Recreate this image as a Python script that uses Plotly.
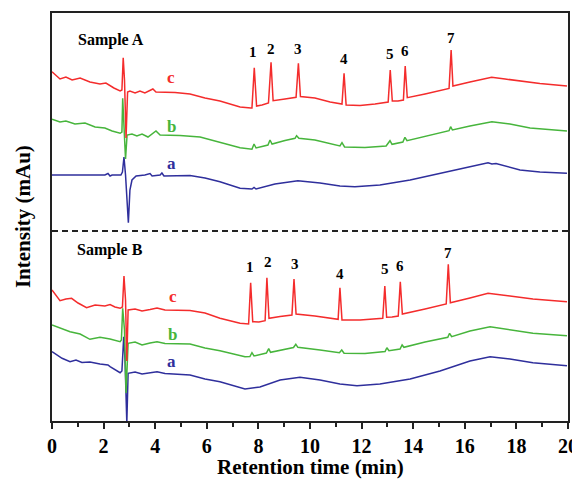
import plotly.graph_objects as go

# ---------------- data (retention time in min, intensity in arbitrary mAu units) ----------------
A_c_t = [0, .31, .54, .78, 1.09, 1.47, 1.86, 2.09, 2.40, 2.64, 2.71, 2.76, 2.81, 2.87, 2.93, 3.02, 3.22, 3.41, 3.60, 3.80, 3.91, 4.03, 4.19,
         4.77, 5.35, 5.93, 6.51, 7.29, 7.71, 7.75, 7.84, 7.93, 8.14, 8.39, 8.49, 8.57, 9.03, 9.46, 9.55, 9.63, 10.19, 10.78, 11.24, 11.32,
         11.40, 11.94, 12.52, 13.03, 13.11, 13.19, 13.41, 13.62, 13.69, 13.77, 14.46, 15.39, 15.47, 15.54, 16.20, 17.04, 17.56, 18.14,
         18.91, 19.96]
A_c_y = [349.3, 342, 344, 341, 343, 339, 337, 338, 333, 330, 331, 363.3, 341, 283, 329, 330, 328, 330, 328, 331, 332, 329, 329,
         328.5, 327, 323, 320, 314, 313, 313, 353.3, 315, 316, 318, 358.7, 320.3, 322, 323.7, 357.7, 324.5, 323, 319, 317, 347.7,
         316, 315.5, 317, 319, 351, 320, 320, 321, 355, 323.3, 327, 332.5, 371, 335, 339, 343.7, 342, 340,
         337.5, 335]

A_b_t = [0, .31, .54, .89, 1.28, 1.67, 2.05, 2.33, 2.64, 2.71, 2.74, 2.79, 2.85, 2.91, 3.10, 3.29, 3.49, 3.72, 3.91, 4.03, 4.19, 4.96,
         5.74, 6.51, 7.29, 7.75, 7.83, 7.91, 8.37, 8.45, 8.53, 9.03, 9.42, 9.48, 9.57, 10.19, 11.16, 11.24, 11.34, 12.13, 12.95, 13.10,
         13.18, 13.60, 13.68, 13.76, 14.65, 15.39, 15.45, 15.52, 16.20, 17.05, 17.75, 18.53, 19.96]
A_b_y = [301.7, 299, 300, 297, 298, 294, 293, 290, 287.7, 289, 322.7, 300, 262, 286, 287, 285, 287, 284, 288, 290, 286, 285.5,
         284, 278.3, 273.3, 271.7, 277, 273, 276, 281, 277, 280.5, 282.7, 285.3, 282.7, 281, 275, 278.3, 274, 273.5, 275, 280.3,
         276.7, 279, 283.7, 280.3, 286, 290.3, 294.3, 291, 295, 299.3, 297, 293, 290]

A_a_t = [0, 1.09, 2.05, 2.17, 2.25, 2.33, 2.67, 2.73, 2.79, 2.85, 2.96, 3.02, 3.10, 3.26, 3.60, 3.80, 3.88, 4.19, 4.26, 4.34, 5.35,
         5.93, 6.51, 7.29, 7.75, 7.83, 7.91, 8.64, 9.53, 10.39, 11.16, 11.74, 12.71, 13.88, 15.04, 16.20, 16.90, 17.05, 17.21, 17.56,
         18.14, 18.91, 19.96]
A_a_y = [246, 246, 246, 247.5, 245, 246, 246, 249, 264, 246, 198.3, 231, 241, 245, 246, 247.5, 245, 246, 248, 245, 245.5,
         243, 239.3, 232.7, 232, 233.5, 232, 237, 240.3, 238, 235, 234.3, 236, 241, 248, 254.3, 258.3, 257, 257.5, 255,
         251, 249, 247.7]

B_c_t = [0, .31, .54, .76, 1.01, 1.34, 1.67, 2.05, 2.25, 2.44, 2.64, 2.73, 2.79, 2.85, 2.90, 2.95, 3.22, 3.49, 3.80, 4.07, 4.38,
         5.35, 5.93, 6.51, 7.29, 7.62, 7.70, 7.78, 8.02, 8.26, 8.33, 8.41, 8.84, 9.30, 9.38, 9.46, 10.19, 11.09, 11.16, 11.24, 11.94,
         12.82, 12.90, 12.97, 13.18, 13.42, 13.50, 13.58, 14.46, 15.28, 15.36, 15.44, 16.20, 16.90, 17.75, 18.64, 19.96]
B_c_y = [131, 120.3, 122, 122.7, 118, 113.3, 116, 115, 116.5, 114, 112.7, 114, 145, 121, 60, 111, 112, 110, 111.5, 113, 111,
         110.5, 108, 102.7, 97.7, 97, 138.3, 99.3, 99, 100.3, 143.3, 102.7, 104.5, 106, 142, 107, 105, 101.7, 133.3, 101, 101,
         102.7, 135, 103.7, 104, 105, 139.3, 107, 112, 117, 156.7, 118.3, 123, 127.7, 125, 122, 119.3]

B_b_t = [0, .31, .70, 1.09, 1.47, 1.86, 2.25, 2.64, 2.69, 2.74, 2.81, 2.87, 2.95, 3.22, 3.49, 3.80, 4.07, 4.38, 5.35, 5.93, 6.51,
         7.48, 7.67, 7.75, 7.83, 8.31, 8.40, 8.47, 9.36, 9.45, 9.53, 10.39, 11.14, 11.23, 11.32, 12.13, 12.91, 12.98, 13.06, 13.49,
         13.57, 13.64, 14.46, 15.34, 15.41, 15.49, 16.20, 16.98, 17.75, 18.64, 19.96]
B_b_y = [96, 93, 89.3, 87, 81.7, 83.7, 82, 79.3, 81, 112.7, 91, 28, 77.7, 79, 76, 78, 79.3, 77.5, 77, 73, 70.3,
         64.3, 64.5, 68.3, 65, 68, 72.3, 68.7, 73.5, 76.7, 73.7, 71, 68.3, 71, 67.7, 67.5, 69.5, 73.3, 70.3, 72,
         76, 73.7, 79, 83.7, 87.7, 84.3, 90, 94.3, 91, 87.7, 85.3]

B_a_t = [0, .19, .39, .70, .93, 1.16, 1.47, 1.86, 2.17, 2.25, 2.48, 2.64, 2.71, 2.78, 2.83, 2.90, 2.95, 3.22, 3.49, 3.80, 4.07,
         4.38, 5.35, 5.93, 6.51, 7.48, 8.06, 8.84, 9.61, 10.39, 11.16, 11.82, 12.71, 13.88, 15.04, 16.20, 16.98, 17.75, 18.64, 19.96]
B_a_y = [69.3, 66, 62.7, 59.3, 61, 58.5, 59, 57, 56, 54.3, 51, 48.3, 50, 84.3, 61, -2, 47.7, 49, 47, 48, 49.3,
         47.5, 46, 42, 39.3, 32, 34, 41, 43.7, 41, 37, 35.3, 37, 42, 50, 60, 64.3, 62, 58.3, 55.3]

# peak labels
A_peak_lbl = ["1", "2", "3", "4", "5", "6", "7"]
A_peak_x = [7.80, 8.49, 9.55, 11.33, 13.10, 13.68, 15.47]
A_peak_y = [369.3, 372, 372, 362, 366.7, 370.3, 382.7]
B_peak_lbl = ["1", "2", "3", "4", "5", "6", "7"]
B_peak_x = [7.67, 8.36, 9.43, 11.16, 12.92, 13.50, 15.36]
B_peak_y = [153.7, 158.7, 156.7, 146.7, 151.7, 155.3, 167.7]

trace_lbl = ["a", "b", "c"]
A_trace_lbl_x = [4.64, 4.64, 4.60]
A_trace_lbl_y = [257.7, 295, 343.7]
B_trace_lbl_x = [4.64, 4.68, 4.68]
B_trace_lbl_y = [59.3, 87, 125]

sample_lbl = ["Sample A", "Sample B"]
sample_lbl_x = [0.93, 0.89]
sample_lbl_y = [381, 171]
divider_y = 190

x_ticks = list(range(0, 21, 2))
x_title = "Retention time (min)"
y_title = "Intensity (mAu)"

# ---------------- style ----------------
RED, GREEN, BLUE = "#f42c2c", "#47b53c", "#2f2f9c"
colors = {"a": BLUE, "b": GREEN, "c": RED}
FONT = "Liberation Serif, Times New Roman, serif"

fig = go.Figure()
series = [(A_a_t, A_a_y, "a"), (A_b_t, A_b_y, "b"), (A_c_t, A_c_y, "c"),
          (B_a_t, B_a_y, "a"), (B_b_t, B_b_y, "b"), (B_c_t, B_c_y, "c")]
for t, y, k in series:
    fig.add_trace(go.Scatter(x=t, y=y, mode="lines", line=dict(color=colors[k], width=1.5),
                             showlegend=False, hoverinfo="skip"))

ann = []
for lbls, xs, ys in [(A_peak_lbl, A_peak_x, A_peak_y), (B_peak_lbl, B_peak_x, B_peak_y)]:
    for s, x, y in zip(lbls, xs, ys):
        ann.append(dict(x=x, y=y, text=f"<b>{s}</b>", showarrow=False,
                        font=dict(family=FONT, size=15, color="black")))
for xs, ys in [(A_trace_lbl_x, A_trace_lbl_y), (B_trace_lbl_x, B_trace_lbl_y)]:
    for s, x, y in zip(trace_lbl, xs, ys):
        ann.append(dict(x=x, y=y, text=f"<b>{s}</b>", showarrow=False,
                        font=dict(family=FONT, size=17, color=colors[s])))
for s, x, y in zip(sample_lbl, sample_lbl_x, sample_lbl_y):
    ann.append(dict(x=x, y=y, text=f"<b>{s}</b>", showarrow=False, xanchor="left",
                    font=dict(family=FONT, size=16, color="black")))
# axis titles
ann.append(dict(xref="paper", yref="paper", x=0.5, y=-0.112, text=f"<b>{x_title}</b>", showarrow=False,
                xanchor="center", yanchor="middle", font=dict(family=FONT, size=21, color="black")))
ann.append(dict(xref="paper", yref="paper", x=-0.056, y=0.5, text=f"<b>{y_title}</b>", showarrow=False,
                textangle=-90, xanchor="center", yanchor="middle",
                font=dict(family=FONT, size=21, color="black")))

fig.add_shape(type="line", xref="paper", yref="y", x0=0, x1=1, y0=divider_y, y1=divider_y,
              line=dict(color="#222", width=2, dash="6px,4px"))

# page body has an 8px default margin, so the figure is sized to fit the 580x482 window
fig.update_layout(
    width=572, height=474,
    margin=dict(l=44, r=12, t=5, b=61),
    plot_bgcolor="white", paper_bgcolor="white",
    annotations=ann,
    font=dict(family=FONT, color="black"),
    xaxis=dict(range=[0, 20], tickvals=x_ticks, ticktext=[f"<b>{v}</b>" for v in x_ticks],
               ticks="outside", ticklen=6, tickwidth=1.5, tickcolor="#222",
               minor=dict(dtick=1, ticks="outside", ticklen=4, tickwidth=1.5, tickcolor="#222"),
               showline=True, linecolor="#222", linewidth=1.5, mirror=True,
               showgrid=False, zeroline=False, automargin=False,
               tickfont=dict(family=FONT, size=20, color="black")),
    yaxis=dict(range=[0, 408], showticklabels=False, ticks="",
               showline=True, linecolor="#222", linewidth=1.5, mirror=True,
               showgrid=False, zeroline=False, automargin=False),
)

fig.write_html("out.html")
